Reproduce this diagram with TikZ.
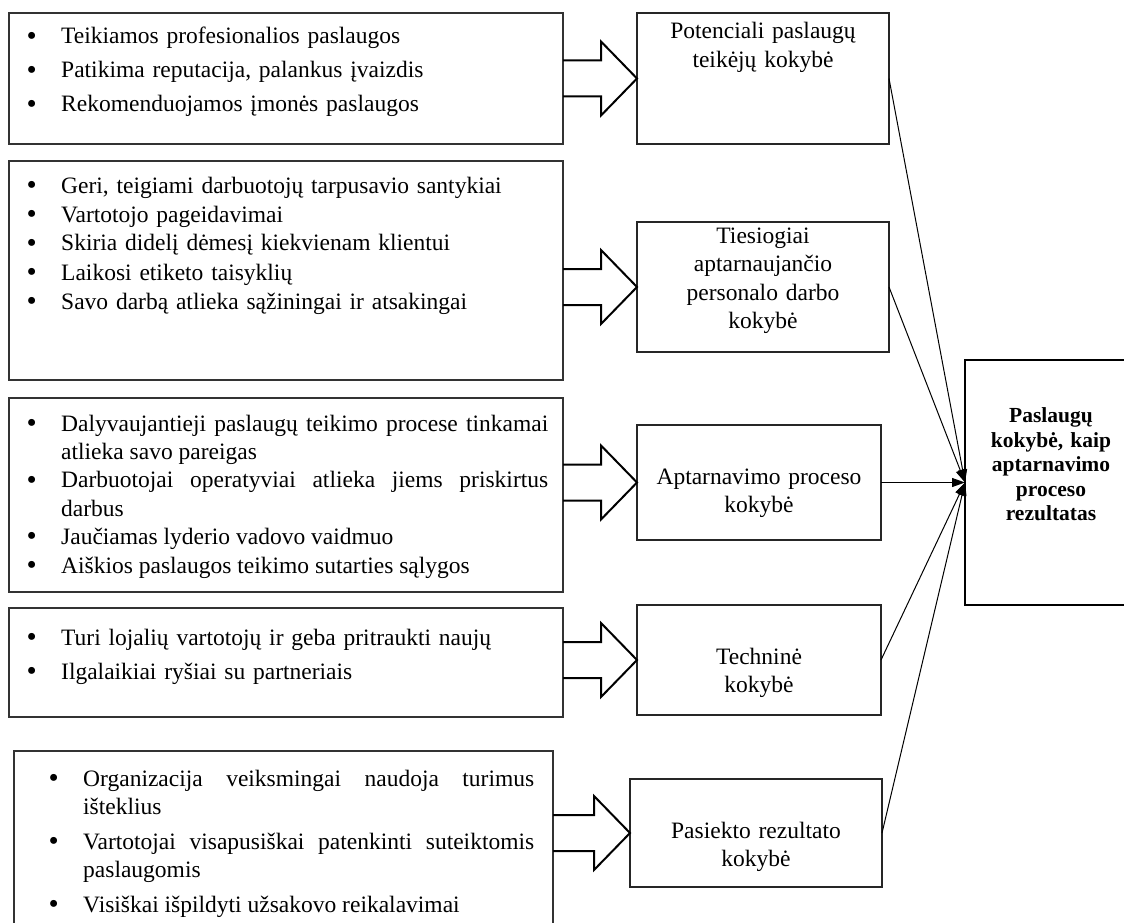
\documentclass[tikz,border=0pt]{standalone}
\usepackage{fontspec}
\setmainfont{Liberation Serif}
\usetikzlibrary{arrows.meta,calc}
\tikzset{
  lbox/.style={draw=black!80, line width=1.3pt, inner sep=0pt, outer sep=0pt},
  rbox/.style={draw=black!85, line width=1.3pt, inner sep=0pt, outer sep=0pt},
  bigbox/.style={draw=black, line width=2.6pt, inner sep=0pt, outer sep=0pt},
  ltext/.style={inner sep=0pt, anchor=base west, text width=490pt, align=left},
  jtext/.style={inner sep=0pt, anchor=base west, align=justify},
  rtext/.style={inner sep=0pt, anchor=base, align=center, text width=240pt,
    font=\fontsize{23.5}{28.5}\selectfont},
  btext/.style={inner sep=0pt, anchor=base, align=center, text width=170pt,
    font=\fontsize{21.5}{24.5}\selectfont\bfseries},
  barrow/.style={draw=black, line width=2pt, line join=miter},
  conn/.style={draw=black, line width=1pt, -{Triangle[length=13pt,width=9pt]}}
}
\newcommand{\bl}{\noindent\llap{\raisebox{-1.2pt}{\fontsize{29}{29}\selectfont\textbullet}\hspace{24.5pt}}}
\newcommand{\blockarrow}[2]{%
  \draw[barrow] let \p1=(#1), \p2=(#2) in
    (\x1,\y1+18pt) -- (\x2-36pt,\y1+18pt) -- (\x2-36pt,\y1+37pt) -- (\x2,\y2)
    -- (\x2-36pt,\y1-37pt) -- (\x2-36pt,\y1-18pt) -- (\x1,\y1-18pt);}
\begin{document}
\begin{tikzpicture}[x=1pt,y=-1pt]
\useasboundingbox (0,0) rectangle (1124,923);

% left boxes
\node[lbox, minimum width=554pt, minimum height=131pt] (L1) at (286,78.5) {};
\node[lbox, minimum width=554pt, minimum height=219pt] (L2) at (286,270.5) {};
\node[lbox, minimum width=554pt, minimum height=194pt] (L3) at (286,495) {};
\node[lbox, minimum width=554pt, minimum height=109pt] (L4) at (286,662.5) {};
\node[lbox, minimum width=539pt, minimum height=184pt] (L5) at (283.5,843) {};

% left texts
\node[ltext, font=\fontsize{23.5}{34}\selectfont] (T1) at (61,44) {%
\bl Teikiamos profesionalios paslaugos\par
\bl Patikima reputacija, palankus įvaizdis\par
\bl Rekomenduojamos įmonės paslaugos};

\node[ltext, font=\fontsize{23.5}{29}\selectfont] (T2) at (61,193) {%
\bl Geri, teigiami darbuotojų tarpusavio santykiai\par
\bl Vartotojo pageidavimai\par
\bl Skiria didelį dėmesį kiekvienam klientui\par
\bl Laikosi etiketo taisyklių\par
\bl Savo darbą atlieka sąžiningai ir atsakingai};

\node[jtext, text width=487pt, font=\fontsize{23.5}{28.4}\selectfont] (T3) at (61,431) {%
\bl Dalyvaujantieji paslaugų teikimo procese tinkamai\linebreak atlieka savo pareigas\par
\bl Darbuotojai operatyviai atlieka jiems priskirtus\linebreak darbus\par
\bl Jaučiamas lyderio vadovo vaidmuo\par
\bl Aiškios paslaugos teikimo sutarties sąlygos};

\node[ltext, font=\fontsize{23.5}{34}\selectfont] (T4) at (61,645) {%
\bl Turi lojalių vartotojų ir geba pritraukti naujų\par
\bl Ilgalaikiai ryšiai su partneriais};

\node[jtext, text width=451pt, font=\fontsize{23.5}{28}\selectfont] (T5) at (83,786) {%
\setlength{\parskip}{7pt}%
\bl Organizacija veiksmingai naudoja turimus\linebreak išteklius\par
\bl Vartotojai visapusiškai patenkinti suteiktomis\linebreak paslaugomis\par
\bl Visiškai išpildyti užsakovo reikalavimai};

% right boxes
\node[rbox, minimum width=252pt, minimum height=131pt] (R1) at (763,78.5) {};
\node[rbox, minimum width=252pt, minimum height=130pt] (R2) at (763,287) {};
\node[rbox, minimum width=244pt, minimum height=115pt] (R3) at (759,482.5) {};
\node[rbox, minimum width=244pt, minimum height=110pt] (R4) at (759,660) {};
\node[rbox, minimum width=252pt, minimum height=108pt] (R5) at (756,833) {};

\node[rtext] (RT1) at (763,39) {Potenciali paslaugų\\teikėjų kokybė};
\node[rtext] (RT2) at (763,243) {Tiesiogiai\\aptarnaujančio\\personalo darbo\\kokybė};
\node[rtext] (RT3) at (759,484) {Aptarnavimo proceso\\kokybė};
\node[rtext] (RT4) at (759,664) {Techninė\\kokybė};
\node[rtext] (RT5) at (756,838) {Pasiekto rezultato\\kokybė};

% big box
\node[bigbox, minimum width=172pt, minimum height=245pt] (B) at (1051,482.5) {};
\node[btext] (BT) at (1051,422.5) {Paslaugų\\kokybė, kaip\\aptarnavimo\\proceso\\rezultatas};

% block arrows
\blockarrow{L1.east |- R1.west}{R1.west}
\blockarrow{L2.east |- R2.west}{R2.west}
\blockarrow{L3.east |- R3.west}{R3.west}
\blockarrow{L4.east |- R4.west}{R4.west}
\blockarrow{L5.east |- R5.west}{R5.west}

% connectors
\draw[conn] (R1.east) -- (B.west);
\draw[conn] (R2.east) -- (B.west);
\draw[conn] (R3.east) -- (B.west);
\draw[conn] (R4.east) -- (B.west);
\draw[conn] (R5.east) -- (B.west);
\end{tikzpicture}
\end{document}
